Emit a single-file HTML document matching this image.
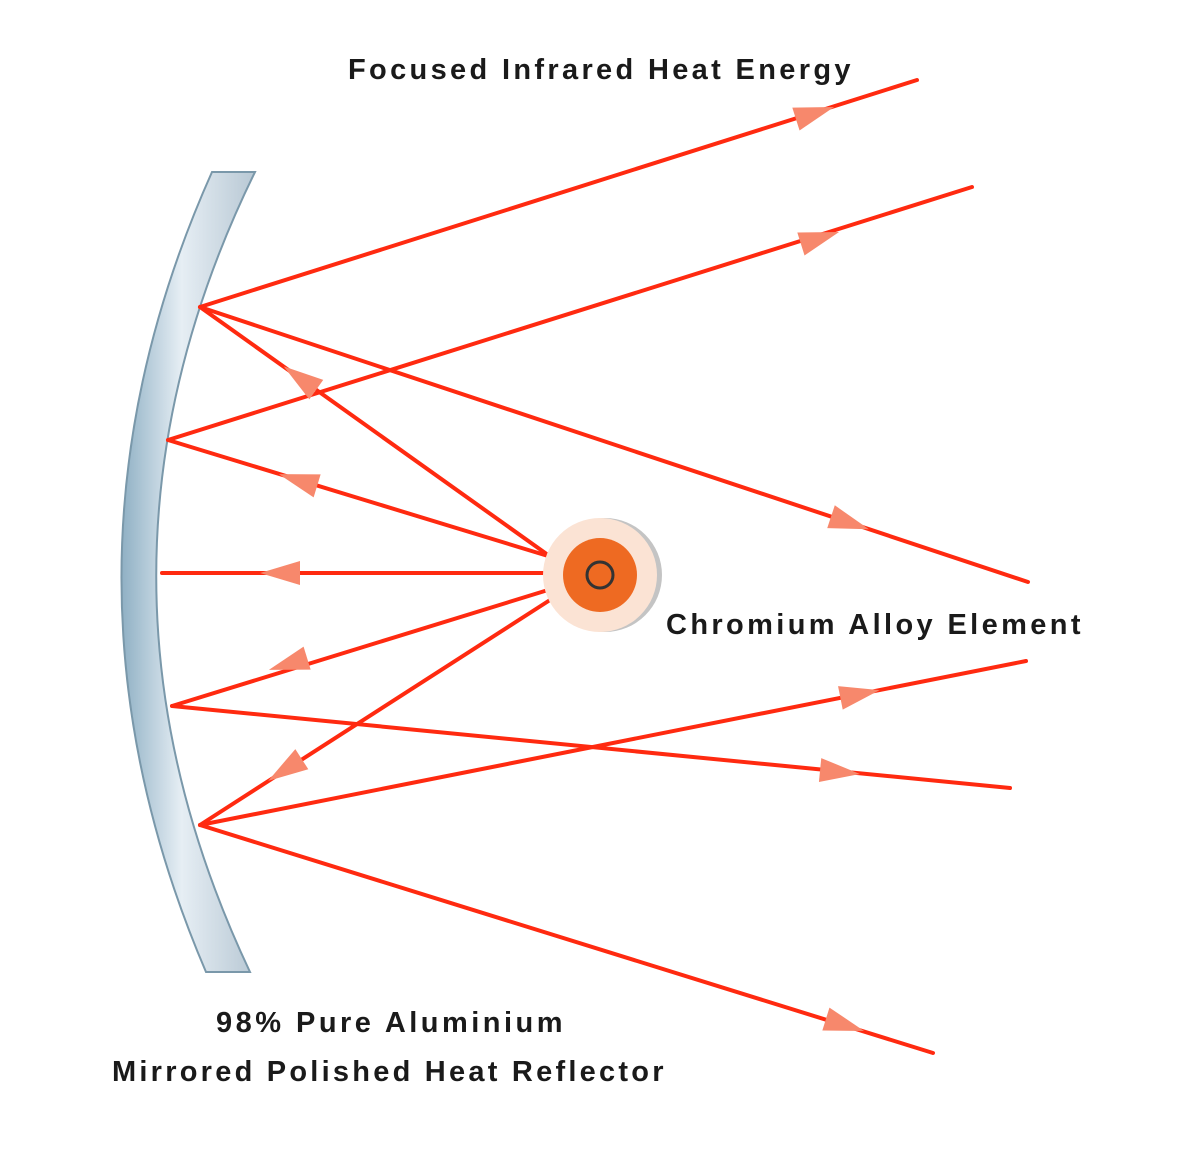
<!DOCTYPE html>
<html><head><meta charset="utf-8"><style>
html,body{margin:0;padding:0;background:#fff;}
svg{display:block;}
text{font-family:"Liberation Sans",sans-serif;font-weight:bold;font-size:29px;fill:#1a1a1a;letter-spacing:1.5px;}
</style></head><body>
<svg id="s" width="1200" height="1150" viewBox="0 0 1200 1150" xmlns="http://www.w3.org/2000/svg">
<defs>
<linearGradient id="mg" x1="0" y1="0" x2="1" y2="0">
<stop offset="0" stop-color="#8fb0c4"/>
<stop offset="0.45" stop-color="#e6eef4"/>
<stop offset="1" stop-color="#b8c8d4"/>
</linearGradient>
</defs>
<path d="M212,172 L255,172 Q60,570 250,972 L206,972 Q34,570 212,172 Z" fill="url(#mg)" stroke="#7a98aa" stroke-width="2"/>
<g id="rays" stroke="#ff2a10" stroke-width="4" fill="none" stroke-linecap="round">
<line x1="548" y1="555" x2="200" y2="307"/>
<line x1="548" y1="556" x2="168" y2="440"/>
<line x1="545" y1="573" x2="162" y2="573"/>
<line x1="548" y1="590" x2="172" y2="706"/>
<line x1="550" y1="600" x2="200" y2="825"/>
<line x1="200" y1="307" x2="917" y2="80"/>
<line x1="200" y1="307" x2="1028" y2="582"/>
<line x1="168" y1="440" x2="972" y2="187"/>
<line x1="172" y1="706" x2="1010" y2="788"/>
<line x1="200" y1="825" x2="1026" y2="661"/>
<line x1="200" y1="825" x2="933" y2="1053"/>
</g>
<g id="heads" fill="#f7886c"></g>
<circle cx="600" cy="575" r="57" fill="#c4c4c4" transform="translate(5,0)"/>
<circle cx="600" cy="575" r="57" fill="#fbe3d4"/>
<circle cx="600" cy="575" r="37" fill="#ee6a22"/>
<circle cx="600" cy="575" r="13" fill="none" stroke="#333" stroke-width="3"/>
<text x="348" y="79" textLength="504">Focused Infrared Heat Energy</text>
<text x="666" y="634" textLength="416">Chromium Alloy Element</text>
<text x="216" y="1032" textLength="348">98% Pure Aluminium</text>
<text x="112" y="1081" textLength="553">Mirrored Polished Heat Reflector</text>
</svg>
<script>
var H=[[548,555,200,307,300,378],[548,556,168,440,298,480],[545,573,162,573,280,573],[548,590,172,706,288,664],[550,600,200,825,285,770],
[200,307,917,80,815,113],[200,307,1028,582,850,523],[168,440,972,187,820,238],[172,706,1010,788,840,772],[200,825,1026,661,860,694],[200,825,933,1053,845,1025]];
var g=document.getElementById('heads'),ns='http://www.w3.org/2000/svg';
H.forEach(function(h){var dx=h[2]-h[0],dy=h[3]-h[1],L=Math.hypot(dx,dy),ux=dx/L,uy=dy/L,px=-uy,py=ux;
var tx=h[4]+ux*20,ty=h[5]+uy*20,bx=h[4]-ux*20,by=h[5]-uy*20;
var p=document.createElementNS(ns,'polygon');
p.setAttribute('points',tx+','+ty+' '+(bx+px*12)+','+(by+py*12)+' '+(bx-px*12)+','+(by-py*12));
g.appendChild(p);});
</script>
</body></html>
